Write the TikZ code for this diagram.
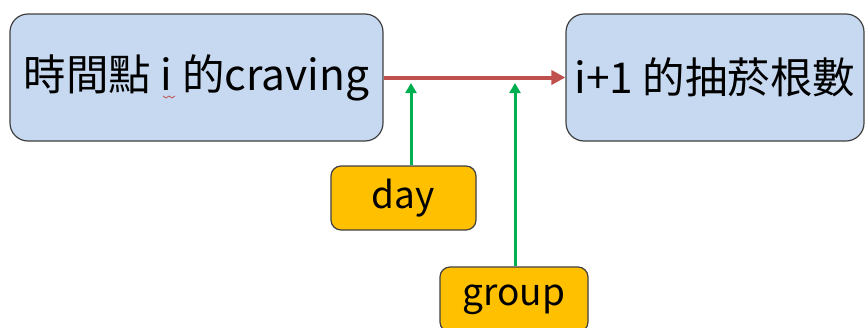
\documentclass[tikz,border=0pt]{standalone}
\usepackage{fontspec}
\setmainfont{Noto Sans CJK TC}
\usetikzlibrary{arrows.meta}
\definecolor{boxblue}{RGB}{198,217,240}
\definecolor{boxorange}{RGB}{255,192,0}
\definecolor{edgegray}{RGB}{64,64,64}
\definecolor{arrred}{RGB}{192,80,77}
\definecolor{arrgreen}{RGB}{0,176,80}
\tikzset{
  bigbox/.style={draw=edgegray, line width=1.2pt, fill=boxblue, rounded corners=18pt, inner sep=0pt,
    font=\fontsize{42.5}{45}\selectfont},
  smallbox/.style={draw=edgegray, line width=1.2pt, fill=boxorange, rounded corners=10pt, inner sep=0pt,
    font=\fontsize{37}{40}\selectfont},
  redarrow/.style={draw=arrred, line width=4pt, -{Triangle[length=14pt,width=14pt]}},
  greenarrow/.style={draw=arrgreen, line width=3pt, -{Triangle[length=10pt,width=11pt]}},
}
\begin{document}
\begin{tikzpicture}[x=1pt,y=-1pt]
\useasboundingbox (0,0) rectangle (865,327);
\clip (0,0) rectangle (865,327);
\node[bigbox, minimum width=373pt, minimum height=127pt] (left) at (196.5,77.5) {時間點 i 的craving};
\node[bigbox, minimum width=298pt, minimum height=127pt] (right) at (715,77.5) {i+1 的抽菸根數};
\node[smallbox, minimum width=145pt, minimum height=64pt] (day) at (403.5,198) {day};
\node[smallbox, minimum width=148pt, minimum height=65pt] (group) at (514,299.5) {group};
\coordinate (dayTarget) at (411,83);
\coordinate (groupTarget) at (515,83);
\draw[redarrow] (left.east) -- (right.west);
\draw[greenarrow] (day.north -| dayTarget) -- (dayTarget);
\draw[greenarrow] (group.north -| groupTarget) -- (groupTarget);
\draw[arrred, line width=0.8pt] (163,96) -- (166,98) -- (169,96) -- (172,98) -- (175,96);
\end{tikzpicture}
\end{document}
